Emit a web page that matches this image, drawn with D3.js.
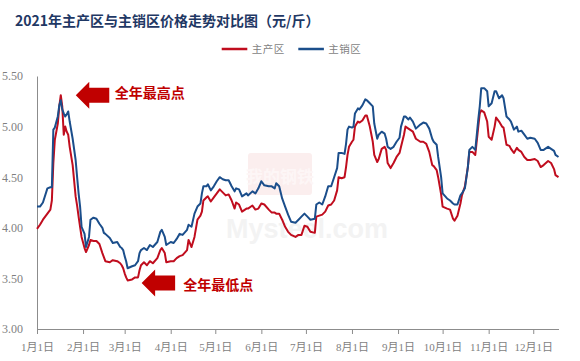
<!DOCTYPE html>
<html><head><meta charset="utf-8">
<script src="https://cdn.jsdelivr.net/npm/d3@7"></script>
<style>body{margin:0;background:#fff}svg{display:block}</style>
</head><body>
<svg id="c" width="580" height="361"></svg>
<script>
const title = "2021年主产区与主销区价格走势对比图（元/斤）";
const seriesNames = ["主产区", "主销区"];
const dates = ["01-01","01-03","01-05","01-08","01-10","01-11","01-12","01-13","01-15","01-16","01-17","01-18","01-19","01-20","01-21","01-22","01-23","01-25","01-27","01-28","01-29","01-30","01-31",
"02-02","02-03","02-05","02-06","02-08","02-10","02-12","02-14","02-15","02-16","02-19","02-21","02-24","02-26","02-27","02-28",
"03-01","03-02","03-03","03-06","03-08","03-10","03-11","03-12","03-14","03-16","03-18","03-20","03-23","03-25","03-26","03-28","03-29",
"04-01","04-03","04-05","04-07","04-09","04-12","04-13","04-15","04-17","04-19","04-21","04-22","04-23","04-25","04-26","04-28","04-30",
"05-02","05-04","05-06","05-08","05-10","05-12","05-14","05-15","05-17","05-19","05-22","05-23","05-26","05-28","05-30",
"06-01","06-03","06-06","06-08","06-10","06-11","06-13","06-15","06-17","06-19","06-21","06-24","06-26","06-28","06-30",
"07-02","07-04","07-07","07-08","07-10","07-12","07-14","07-16","07-18","07-20","07-22","07-23","07-25","07-27","07-28","07-29","07-30",
"08-01","08-02","08-03","08-05","08-06","08-08","08-10","08-11","08-13","08-15","08-16","08-18","08-19","08-21","08-23","08-24","08-25","08-27","08-29","08-31",
"09-02","09-03","09-05","09-06","09-08","09-09","09-11","09-13","09-16","09-18","09-20","09-22","09-24","09-25","09-27","09-28","09-30",
"10-01","10-04","10-06","10-08","10-09","10-11","10-13","10-14","10-16","10-18","10-19","10-21","10-23","10-25","10-26","10-27","10-29","10-31",
"11-01","11-03","11-05","11-06","11-08","11-10","11-11","11-13","11-15","11-16","11-18","11-20","11-21","11-23","11-25","11-27","11-29",
"12-02","12-04","12-06","12-08","12-11","12-13","12-15","12-16","12-18"];
// 主销区 (blue)
const salesValues = [4.21,4.21,4.25,4.39,4.40,4.40,4.97,4.99,5.10,5.21,5.26,5.17,5.13,5.10,5.12,5.15,5.05,4.88,4.67,4.50,4.34,4.21,4.01,
3.94,3.81,3.91,4.08,4.10,4.09,4.04,4.00,3.95,3.94,3.90,3.85,3.86,3.81,3.80,3.78,
3.72,3.67,3.60,3.62,3.63,3.67,3.75,3.78,3.80,3.78,3.83,3.81,3.86,3.96,3.98,3.91,3.83,
3.86,3.85,3.89,3.94,3.93,3.98,4.03,4.01,4.14,4.21,4.24,4.34,4.41,4.41,4.43,4.37,4.41,
4.46,4.50,4.48,4.47,4.47,4.41,4.36,4.39,4.38,4.31,4.34,4.32,4.36,4.34,4.39,
4.46,4.42,4.41,4.41,4.39,4.44,4.41,4.29,4.21,4.13,4.06,4.05,4.08,4.11,4.14,
4.11,4.08,4.09,4.23,4.25,4.23,4.31,4.41,4.41,4.50,4.59,4.74,4.74,4.73,4.83,4.97,5.00,
4.99,5.00,5.13,5.18,5.17,5.21,5.27,5.26,5.23,5.20,5.03,4.88,4.92,4.95,4.93,4.88,4.80,4.78,4.80,4.85,
4.89,5.00,5.10,5.10,5.07,5.09,5.05,4.98,5.02,5.04,5.03,4.98,4.88,4.85,4.82,4.70,4.50,
4.34,4.29,4.27,4.24,4.23,4.23,4.32,4.34,4.39,4.60,4.77,4.80,4.77,5.07,5.20,5.38,5.38,5.35,
5.20,5.23,5.35,5.35,5.28,5.31,5.28,5.10,5.07,5.05,4.97,5.00,4.95,4.96,4.92,4.88,4.89,
4.88,4.84,4.77,4.77,4.80,4.78,4.76,4.72,4.70];
// 主产区 (red)
const prodValues = [3.99,4.03,4.08,4.14,4.18,4.27,4.64,4.87,5.03,5.20,5.31,5.20,4.92,5.00,4.95,4.92,4.80,4.62,4.31,4.22,4.11,4.01,3.91,
3.80,3.76,3.83,3.88,3.87,3.87,3.84,3.75,3.71,3.67,3.66,3.68,3.67,3.65,3.63,3.60,
3.55,3.51,3.48,3.49,3.51,3.51,3.58,3.63,3.66,3.63,3.67,3.65,3.70,3.78,3.80,3.75,3.66,
3.67,3.67,3.70,3.72,3.73,3.78,3.88,3.81,3.91,4.08,4.12,4.16,4.27,4.30,4.31,4.26,4.30,
4.34,4.38,4.35,4.32,4.33,4.27,4.19,4.25,4.23,4.16,4.19,4.19,4.22,4.18,4.19,
4.24,4.23,4.18,4.15,4.15,4.14,4.14,4.08,4.01,3.96,3.93,3.91,3.93,3.93,4.02,
4.01,3.96,3.95,4.11,4.12,4.13,4.16,4.22,4.23,4.27,4.37,4.50,4.49,4.50,4.60,4.72,4.80,
4.85,4.87,5.00,5.05,5.04,5.06,5.11,5.11,5.00,4.85,4.72,4.65,4.68,4.78,4.80,4.77,4.64,4.59,4.64,4.70,
4.74,4.80,4.92,5.00,4.98,4.97,4.95,4.88,4.85,4.85,4.83,4.75,4.62,4.61,4.57,4.50,4.33,
4.21,4.19,4.18,4.09,4.07,4.12,4.24,4.32,4.41,4.60,4.75,4.75,4.72,5.00,5.13,5.16,5.14,5.05,
4.90,4.87,5.00,5.09,5.05,5.00,4.99,4.82,4.81,4.78,4.74,4.79,4.77,4.75,4.70,4.67,4.67,
4.68,4.66,4.60,4.62,4.66,4.64,4.58,4.52,4.50];
const yTicks = [3.00, 3.50, 4.00, 4.50, 5.00, 5.50];
const monthTicks = ["01-01","02-01","03-01","04-01","05-01","06-01","07-01","08-01","09-01","10-01","11-01","12-01"];
const monthLabels = ["1月1日","2月1日","3月1日","4月1日","5月1日","6月1日","7月1日","8月1日","9月1日","10月1日","11月1日","12月1日"];
const domainEnd = "12-18";

const parse = s => d3.utcParse("%Y-%m-%d")("2021-" + s);
const colors = {prod: "#c00d1e", sales: "#1b4e8b"};
const svg = d3.select("#c");
const axisColor = "#8c8c8c", labelColor = "#7f7f7f";
const cjk = "'Liberation Serif','Noto Sans CJK SC',serif";

const x = d3.scaleUtc().domain([parse("01-01"), parse(domainEnd)]).range([37, 558.5]);
const y = d3.scaleLinear().domain([3, 5.5]).range([329, 76]);

// watermark
const wm = svg.append("g");
wm.append("rect").attr("x", 248).attr("y", 153).attr("width", 64).attr("height", 42).attr("rx", 3).attr("fill", "#fbeeee");
wm.append("text").attr("x", 280).attr("y", 175).attr("text-anchor", "middle").attr("dominant-baseline", "central")
  .attr("font-family", "'Noto Sans CJK SC'").attr("font-size", 17).attr("font-weight", "bold").attr("fill", "#fdf6f6").text("我的钢铁");
wm.append("text").attr("x", 226).attr("y", 238).attr("font-family", "'Liberation Sans',Arial").attr("font-size", 27)
  .attr("font-weight", "bold").attr("fill", "#f3f3f3").text("Mysteel.com");

// title
svg.append("text").attr("x", 15).attr("y", 20).attr("dominant-baseline", "central")
  .attr("font-family", "'Noto Sans CJK SC','Microsoft YaHei',sans-serif").attr("font-size", 14).attr("font-weight", "bold")
  .attr("fill", "#1f3864").text(title);

// legend
const legend = svg.append("g");
[["prod", 221.7, seriesNames[0]], ["sales", 298.3, seriesNames[1]]].forEach(([k, lx, name]) => {
  legend.append("line").attr("x1", lx).attr("x2", lx + 25.6).attr("y1", 49).attr("y2", 49)
    .attr("stroke", colors[k]).attr("stroke-width", 2.5);
  legend.append("text").attr("x", lx + 30).attr("y", 49).attr("dominant-baseline", "central")
    .attr("font-family", cjk).attr("font-size", 10.5).attr("letter-spacing", 0.5).attr("fill", labelColor).text(name);
});

// y axis
const yAxis = svg.append("g").attr("transform", "translate(37,0)")
  .call(d3.axisLeft(y).tickValues(yTicks).tickFormat(d3.format(".2f")).tickSize(0).tickPadding(14));
yAxis.select(".domain").attr("stroke", axisColor);
yAxis.selectAll("text").attr("font-family", "'Liberation Serif',serif").attr("font-size", 12).attr("fill", labelColor);

// x axis
const xAxis = svg.append("g").attr("transform", "translate(0,329)")
  .call(d3.axisBottom(x).tickValues(monthTicks.map(parse)).tickFormat((d, i) => monthLabels[i]).tickSizeInner(5).tickSizeOuter(0).tickPadding(9));
xAxis.select(".domain").attr("stroke", axisColor);
xAxis.selectAll(".tick line").attr("stroke", axisColor);
xAxis.selectAll("text").attr("font-family", cjk).attr("font-size", 11).attr("fill", labelColor);

// lines
const pts = vals => dates.map((d, i) => ({d: parse(d), v: vals[i]}));
const line = d3.line().x(p => x(p.d)).y(p => y(p.v));
svg.append("path").datum(pts(prodValues)).attr("d", line).attr("fill", "none")
  .attr("stroke", colors.prod).attr("stroke-width", 2).attr("stroke-linejoin", "round");
svg.append("path").datum(pts(salesValues)).attr("d", line).attr("fill", "none")
  .attr("stroke", colors.sales).attr("stroke-width", 2).attr("stroke-linejoin", "round");

// annotations anchored to the extremes of 主产区
const red = "#c00000";
const arrow = (tx, ty) => {
  const p = [[0,0],[13.5,-13.5],[13.5,-7.5],[33.5,-7.5],[33.5,7.5],[13.5,7.5],[13.5,13.5]];
  svg.append("polygon").attr("points", p.map(([a,b]) => [tx + a, ty + b].join(",")).join(" ")).attr("fill", red);
};
const iMax = d3.maxIndex(prodValues), iMin = d3.minIndex(prodValues);
const hx = x(parse(dates[iMax])) + 15, hy = y(prodValues[iMax]);
arrow(hx, hy);
svg.append("text").attr("x", hx + 39).attr("y", hy - 3).attr("dominant-baseline", "central")
  .attr("font-family", "'Noto Sans CJK SC'").attr("font-size", 14).attr("font-weight", "bold").attr("fill", red).text("全年最高点");
const lx = x(parse(dates[iMin])) + 14, ly = y(prodValues[iMin]) + 2.5;
arrow(lx, ly);
svg.append("text").attr("x", lx + 41.6).attr("y", ly + 0.6).attr("dominant-baseline", "central")
  .attr("font-family", "'Noto Sans CJK SC'").attr("font-size", 14).attr("font-weight", "bold").attr("fill", red).text("全年最低点");
</script>
</body></html>
